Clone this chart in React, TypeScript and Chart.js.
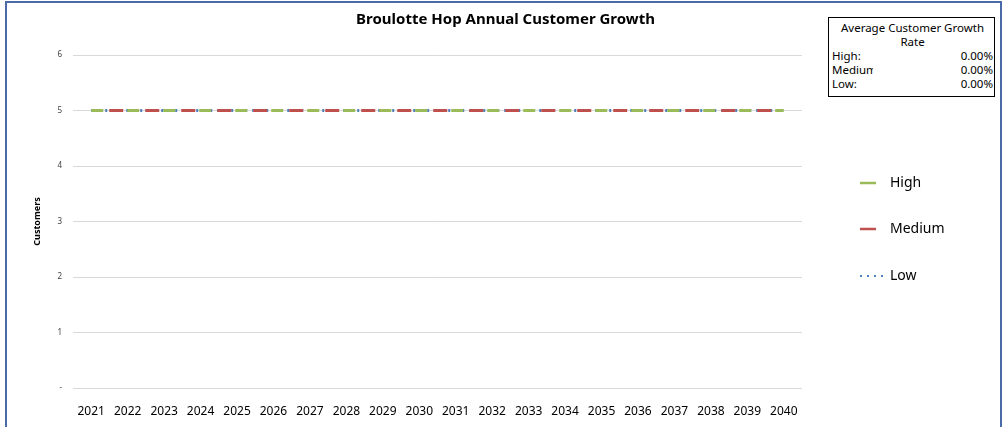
import { useEffect, useRef } from "react";
import { Chart, registerables } from "chart.js";

Chart.register(...registerables);

const chartTitle = "Broulotte Hop Annual Customer Growth";
const yAxisTitle = "Customers";
const years = ["2021", "2022", "2023", "2024", "2025", "2026", "2027", "2028", "2029", "2030", "2031", "2032", "2033", "2034", "2035", "2036", "2037", "2038", "2039", "2040"];
const highSeries = [5, 5, 5, 5, 5, 5, 5, 5, 5, 5, 5, 5, 5, 5, 5, 5, 5, 5, 5, 5];
const mediumSeries = [5, 5, 5, 5, 5, 5, 5, 5, 5, 5, 5, 5, 5, 5, 5, 5, 5, 5, 5, 5];
const lowSeries = [5, 5, 5, 5, 5, 5, 5, 5, 5, 5, 5, 5, 5, 5, 5, 5, 5, 5, 5, 5];
const yTickLabels = ["-", "1", "2", "3", "4", "5", "6"];
const seriesLabels = ["High", "Medium", "Low"];
const summaryTitle = ["Average Customer Growth", "Rate"];
const summaryLabels = ["High:", "Medium:", "Low:"];
const summaryValues = ["0.00%", "0.00%", "0.00%"];

const FONT = "'Noto Sans', 'Open Sans', sans-serif";
const GREEN = "#9bbb59";
const RED = "#c0504d";
const BLUE = "#4f81bd";

const sideLegend = {
  id: "sideLegend",
  afterDraw(chart: any) {
    const ctx = chart.ctx as CanvasRenderingContext2D;
    const rowY = [183, 229, 276];
    chart.data.datasets.forEach((ds: any, i: number) => {
      const y = rowY[i];
      ctx.save();
      ctx.strokeStyle = ds.borderColor;
      ctx.beginPath();
      if (ds.legendDotted) {
        ctx.lineWidth = 2;
        ctx.setLineDash([2, 5]);
        ctx.moveTo(860, y);
        ctx.lineTo(888, y);
      } else {
        ctx.lineWidth = 2.5;
        ctx.setLineDash([]);
        ctx.moveTo(860, y);
        ctx.lineTo(876, y);
      }
      ctx.stroke();
      ctx.setLineDash([]);
      ctx.fillStyle = "#000";
      ctx.font = `14px ${FONT}`;
      ctx.textBaseline = "middle";
      ctx.textAlign = "left";
      ctx.fillText(ds.label, 890, y);
      ctx.restore();
    });
  },
};

export default function App() {
  const canvasRef = useRef<HTMLCanvasElement | null>(null);

  useEffect(() => {
    if (!canvasRef.current) return;
    const chart = new Chart(canvasRef.current, {
      type: "line",
      data: {
        labels: years,
        datasets: [
          {
            label: seriesLabels[0],
            data: highSeries,
            borderColor: GREEN,
            backgroundColor: GREEN,
            borderWidth: 3,
            borderDash: [12, 24],
            borderDashOffset: 0,
            pointRadius: 0,
          },
          {
            label: seriesLabels[1],
            data: mediumSeries,
            borderColor: RED,
            backgroundColor: RED,
            borderWidth: 3,
            borderDash: [14, 22],
            borderDashOffset: 18,
            pointRadius: 0,
          },
          {
            label: seriesLabels[2],
            data: lowSeries,
            borderColor: BLUE,
            backgroundColor: BLUE,
            borderWidth: 3,
            borderDash: [2, 5],
            pointRadius: 0,
            legendDotted: true,
          } as any,
        ],
      },
      options: {
        responsive: false,
        animation: false,
        layout: { padding: { left: 8, right: 0, top: 0, bottom: 0 } },
        plugins: {
          legend: { display: false },
          tooltip: { enabled: false },
          title: {
            display: true,
            text: chartTitle,
            color: "#000",
            font: { family: FONT, size: 15, weight: "bold" },
            padding: { top: 11, bottom: 26 },
          },
        },
        scales: {
          x: {
            type: "category",
            offset: true,
            grid: { display: false },
            border: { display: false },
            ticks: {
              color: "#000",
              font: { family: FONT, size: 12 },
              padding: 8,
              maxRotation: 0,
              autoSkip: false,
            },
            afterFit: (s: any) => {
              s.height = 39;
            },
          },
          y: {
            min: 0,
            max: 6,
            border: { display: false },
            grid: { color: "#d9d9d9", lineWidth: 1, drawTicks: false },
            ticks: {
              stepSize: 1,
              padding: 11,
              color: "#404040",
              font: { family: FONT, size: 8 },
              callback: (v: any) => yTickLabels[Number(v)] ?? "",
            },
            title: {
              display: true,
              text: yAxisTitle,
              color: "#000",
              font: { family: FONT, size: 9, weight: "bold" },
              padding: { top: 24, bottom: 0 },
            },
            afterFit: (s: any) => {
              s.width = 65;
            },
          },
          side: {
            type: "linear",
            position: "right",
            display: true,
            grid: { display: false },
            border: { display: false },
            ticks: { display: false },
            afterFit: (s: any) => {
              s.width = 201;
            },
          },
        },
      } as any,
      plugins: [sideLegend],
    });
    return () => chart.destroy();
  }, []);

  return (
    <div
      style={{
        position: "absolute",
        left: 0,
        top: 0,
        width: 1003,
        height: 427,
        overflow: "hidden",
        background: "#fff",
        fontFamily: FONT,
      }}
    >
      <canvas
        ref={canvasRef}
        width={1003}
        height={427}
        style={{ position: "absolute", left: 0, top: 0, width: 1003, height: 427 }}
      />
      <div
        style={{
          position: "absolute",
          left: 5,
          top: 1,
          width: 997,
          height: 470,
          boxSizing: "border-box",
          border: "2px solid #4a6aa8",
          pointerEvents: "none",
        }}
      />
      <div
        style={{
          position: "absolute",
          left: 828,
          top: 17,
          width: 167,
          height: 80,
          boxSizing: "border-box",
          border: "1px solid #000",
          padding: "3px 1px 0 3px",
          fontSize: 11.5,
          lineHeight: "14px",
          color: "#000",
          background: "#fff",
        }}
      >
        <div style={{ textAlign: "center", whiteSpace: "nowrap" }}>
          {summaryTitle[0]}
          <br />
          {summaryTitle[1]}
        </div>
        {summaryLabels.map((lab, i) => (
          <div key={lab} style={{ display: "flex", justifyContent: "space-between" }}>
            <span style={{ display: "inline-block", width: 41, overflow: "hidden", whiteSpace: "nowrap" }}>{lab}</span>
            <span>{summaryValues[i]}</span>
          </div>
        ))}
      </div>
    </div>
  );
}
